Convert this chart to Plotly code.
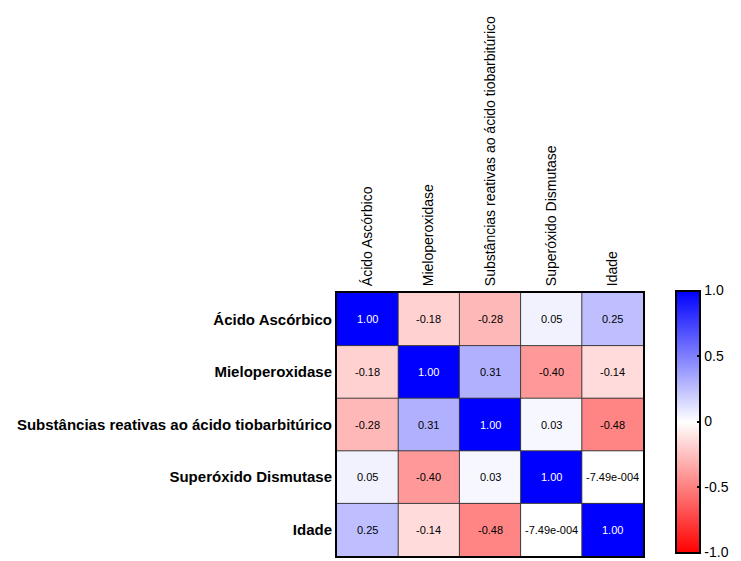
import plotly.graph_objects as go

variables = [
    "Ácido Ascórbico",
    "Mieloperoxidase",
    "Substâncias reativas ao ácido tiobarbitúrico",
    "Superóxido Dismutase",
    "Idade",
]

# Pearson correlation matrix (rows and columns in the order of `variables`)
row_acido = [1.00, -0.18, -0.28, 0.05, 0.25]
row_mpo = [-0.18, 1.00, 0.31, -0.40, -0.14]
row_tbars = [-0.28, 0.31, 1.00, 0.03, -0.48]
row_sod = [0.05, -0.40, 0.03, 1.00, -0.000749]
row_idade = [0.25, -0.14, -0.48, -0.000749, 1.00]
corr = [row_acido, row_mpo, row_tbars, row_sod, row_idade]

cbar_ticks = [-1.0, -0.5, 0.0, 0.5, 1.0]
cbar_labels = ["-1.0", "-0.5", "0", "0.5", "1.0"]


def fmt(v):
    if v != 0 and abs(v) < 0.005:
        mant, exp = f"{v:.2e}".split("e")
        sign = exp[0]
        return f"{mant}e{sign}{int(exp[1:]):03d}"
    return f"{v:.2f}"


n = len(variables)
idx = list(range(n))

fig = go.Figure(
    go.Heatmap(
        z=corr,
        x=idx,
        y=idx,
        zmin=-1,
        zmax=1,
        colorscale=[[0.0, "#FF0000"], [0.5, "#FFFFFF"], [1.0, "#0000FF"]],
        showscale=True,
        colorbar=dict(
            x=1.108,
            xanchor="left",
            xpad=0,
            y=0.5114,
            yanchor="middle",
            ypad=10,
            thickness=24,
            thicknessmode="pixels",
            len=282,
            lenmode="pixels",
            outlinecolor="black",
            outlinewidth=2,
            tickvals=cbar_ticks,
            ticktext=cbar_labels,
            ticks="inside",
            ticklen=4,
            tickcolor="black",
            tickwidth=2,
            ticklabeloverflow="allow",
            tickfont=dict(family="Liberation Sans, Arial", size=14, color="black"),
        ),
        hoverongaps=False,
    )
)

# value labels in each cell
for i in range(n):
    for j in range(n):
        v = corr[i][j]
        fig.add_annotation(
            x=j,
            y=i,
            text=fmt(v),
            showarrow=False,
            font=dict(
                family="Liberation Sans, Arial",
                size=11,
                color="white" if v > 0.7 else "black",
            ),
        )

# cell separators
for k in range(n - 1):
    fig.add_shape(type="line", xref="x", yref="y", x0=k + 0.5, x1=k + 0.5,
                  y0=-0.5, y1=n - 0.5, line=dict(color="#3a3a3a", width=1))
    fig.add_shape(type="line", xref="x", yref="y", y0=k + 0.5, y1=k + 0.5,
                  x0=-0.5, x1=n - 0.5, line=dict(color="#3a3a3a", width=1))

fig.update_xaxes(
    side="top",
    tickmode="array",
    tickvals=idx,
    ticktext=variables,
    tickangle=-90,
    ticks="",
    showgrid=False,
    zeroline=False,
    range=[-0.5, n - 0.5],
    showline=True,
    mirror=True,
    linecolor="black",
    linewidth=2,
    ticklabelstandoff=2,
    tickfont=dict(family="Liberation Sans, Arial", size=14, color="black"),
)
fig.update_yaxes(
    tickmode="array",
    tickvals=idx,
    ticktext=variables,
    ticks="",
    showgrid=False,
    zeroline=False,
    range=[n - 0.5, -0.5],
    showline=True,
    mirror=True,
    linecolor="black",
    linewidth=2,
    ticklabelstandoff=0,
    tickfont=dict(family="Liberation Sans, Arial", size=15, color="black", weight="bold"),
)

fig.update_layout(
    width=741,
    height=561,
    margin=dict(l=337, r=98, t=293, b=5, autoexpand=False),
    paper_bgcolor="white",
    plot_bgcolor="white",
)

fig.write_html("out.html")
